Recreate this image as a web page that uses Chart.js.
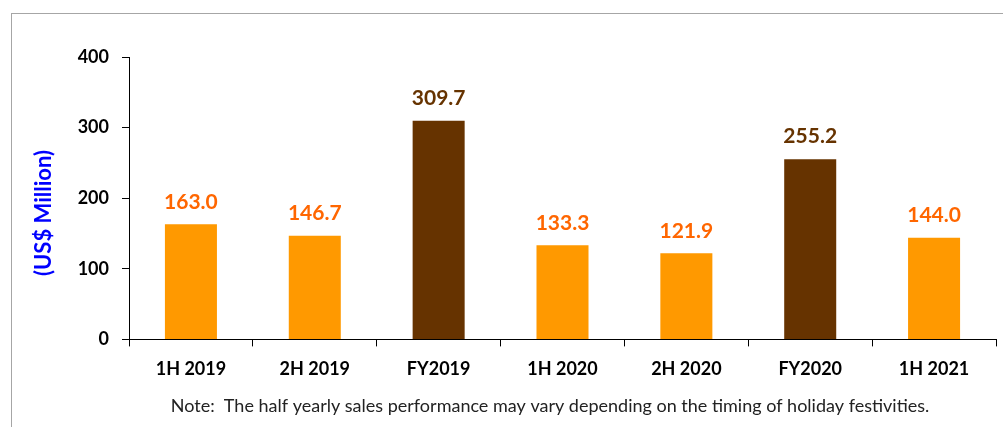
<!DOCTYPE html>
<html>
<head>
<meta charset="utf-8">
<script src="https://cdn.jsdelivr.net/npm/chart.js@4.4.0/dist/chart.umd.min.js"></script>
<style>
  html, body { margin: 0; padding: 0; background: #fff; overflow: hidden; }
  #frame { position: absolute; left: 11px; top: 13px; width: 1100px; height: 500px; border: 1px solid #a6a6a6; box-sizing: border-box; }
  #wrap { position: absolute; left: 0; top: 0; width: 1003px; height: 427px; }
</style>
</head>
<body>
<div id="frame"></div>
<div id="wrap"><canvas id="salesChart"></canvas></div>
<script>
const periods = ["1H 2019", "2H 2019", "FY2019", "1H 2020", "2H 2020", "FY2020", "1H 2021"];
const sales = [163.0, 146.7, 309.7, 133.3, 121.9, 255.2, 144.0];
const isFullYear = [false, false, true, false, false, true, false];
const yTicks = [0, 100, 200, 300, 400];
const yTitle = "(US$ Million)";
const note = "Note:  The half yearly sales performance may vary depending on the timing of holiday festivities.";

const barColors = isFullYear.map(f => f ? "#663300" : "#FF9900");
const labelColors = isFullYear.map(f => f ? "#663300" : "#FF6600");
const FONT = "Lato, 'Open Sans', sans-serif";

// value labels above the bars, plus the axis title and the note
const extras = {
  id: "extras",
  afterDatasetsDraw(chart) {
    const ctx = chart.ctx;
    const meta = chart.getDatasetMeta(0);
    ctx.save();
    ctx.font = "bold 21px " + FONT;
    ctx.textAlign = "center";
    ctx.textBaseline = "bottom";
    meta.data.forEach((bar, i) => {
      ctx.fillStyle = labelColors[i];
      ctx.fillText(sales[i].toFixed(1), bar.x, bar.y - 12);
    });

    // y title
    ctx.save();
    ctx.translate(44, 213);
    ctx.rotate(-Math.PI / 2);
    ctx.textBaseline = "middle";
    ctx.fillStyle = "#0000FF";
    ctx.font = "bold 22px " + FONT;
    ctx.fillText(yTitle, 0, 0);
    ctx.restore();

    // note
    ctx.textBaseline = "middle";
    ctx.fillStyle = "#222";
    ctx.font = "18px " + FONT;
    ctx.fillText(note, 550, 406);
    ctx.restore();
  }
};

new Chart(document.getElementById("salesChart"), {
  type: "bar",
  data: {
    labels: periods,
    datasets: [{
      data: sales,
      backgroundColor: barColors,
      categoryPercentage: 1,
      barPercentage: 0.42
    }]
  },
  options: {
    responsive: true,
    maintainAspectRatio: false,
    animation: false,
    layout: { padding: { left: 0, right: 7, top: 57, bottom: 35 } },
    plugins: {
      legend: { display: false },
      tooltip: { enabled: false }
    },
    scales: {
      x: {
        offset: true,
        grid: { display: true, offset: true, drawOnChartArea: false, color: "#000", tickLength: 7 },
        border: { color: "#000" },
        ticks: {
          color: "#000",
          padding: 12,
          maxRotation: 0,
          font: { family: FONT, size: 18, weight: "bold" }
        }
      },
      y: {
        min: 0,
        max: 400,
        afterBuildTicks: s => { s.ticks = yTicks.map(v => ({ value: v })); },
        afterFit: s => { s.width = 129; },
        grid: { display: true, drawOnChartArea: false, color: "#000", tickLength: 7 },
        border: { color: "#000" },
        ticks: {
          color: "#000",
          padding: 13,
          font: { family: FONT, size: 18, weight: "bold" }
        }
      }
    }
  },
  plugins: [extras]
});
</script>
</body>
</html>
